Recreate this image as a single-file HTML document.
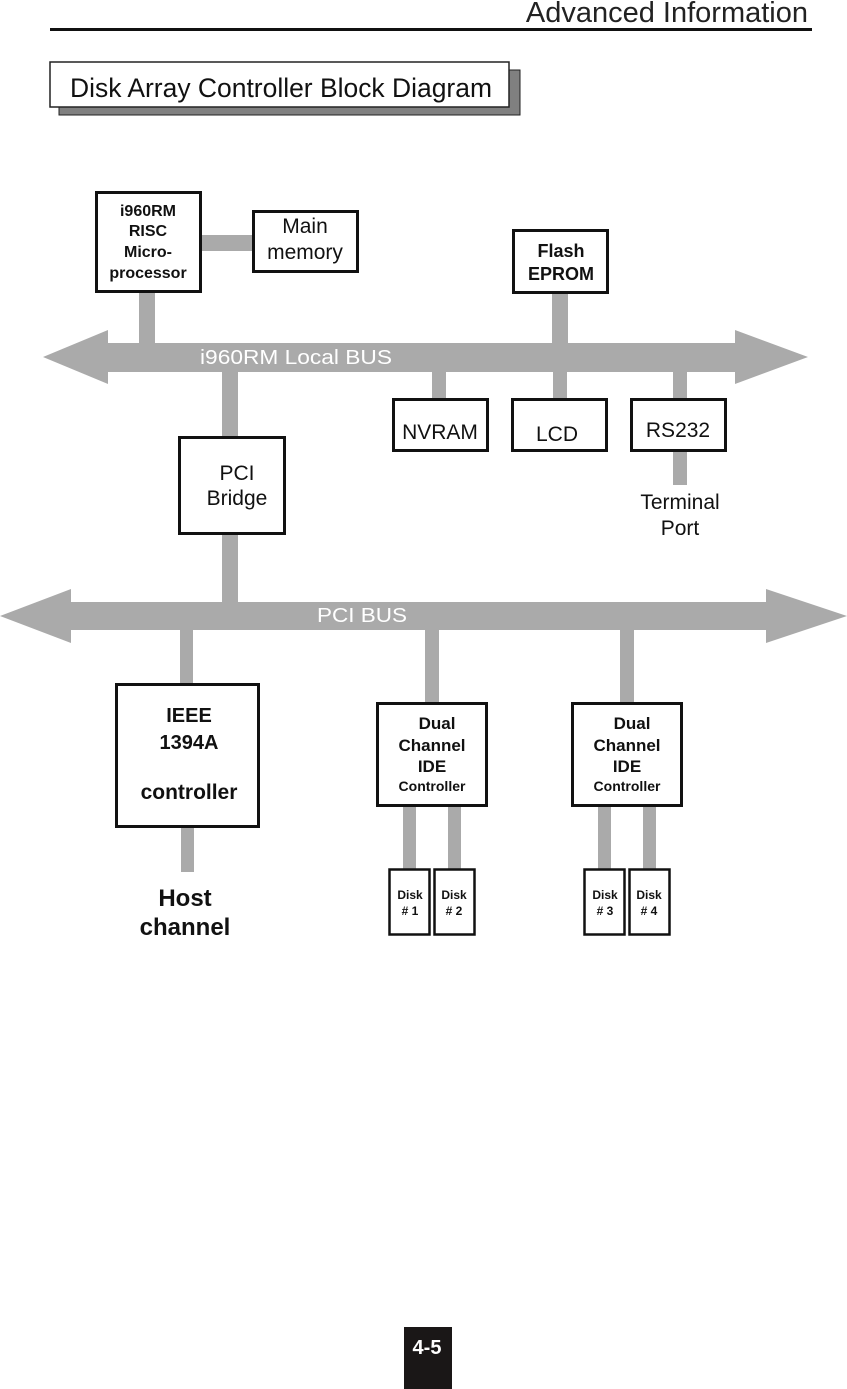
<!DOCTYPE html>
<html><head><meta charset="utf-8"><style>
html,body{margin:0;padding:0;background:#fff;}
svg{display:block;}
text{font-family:"Liberation Sans",Arial,sans-serif;}
</style></head><body>
<svg width="847" height="1389" viewBox="0 0 847 1389" xmlns="http://www.w3.org/2000/svg">
<!-- header -->
<text x="808" y="22" text-anchor="end" font-size="29" fill="#222">Advanced Information</text>
<rect x="50" y="28" width="762" height="3" fill="#111"/>
<rect x="59" y="70" width="461" height="45" fill="#808080" stroke="#222" stroke-width="1"/>
<rect x="50" y="62" width="459" height="45" fill="#fff" stroke="#222" stroke-width="1.5"/>
<text x="70" y="97" font-size="27" fill="#111" textLength="422" lengthAdjust="spacingAndGlyphs">Disk Array Controller Block Diagram</text>

<g fill="#aaaaaa">
<polygon points="43,357 108,330 108,343 735,343 735,330 808,357 735,384 735,372 108,372 108,384"/>
<polygon points="0,616 71,589 71,602 766,602 766,589 847,616 766,643 766,630 71,630 71,643"/>
<rect x="139" y="293" width="16" height="52"/>
<rect x="202" y="235" width="52" height="16"/>
<rect x="552" y="293" width="16" height="52"/>
<rect x="222" y="370" width="16" height="68"/>
<rect x="222" y="532" width="16" height="72"/>
<rect x="432" y="370" width="14" height="30"/>
<rect x="553" y="370" width="14" height="30"/>
<rect x="673" y="370" width="14" height="30"/>
<rect x="673" y="450" width="14" height="35"/>
<rect x="180" y="628" width="13" height="57"/>
<rect x="425" y="628" width="14" height="76"/>
<rect x="620" y="628" width="14" height="76"/>
<rect x="181" y="825" width="13" height="47"/>
<rect x="403" y="804" width="13" height="66"/>
<rect x="448" y="804" width="13" height="66"/>
<rect x="598" y="804" width="13" height="66"/>
<rect x="643" y="804" width="13" height="66"/>
</g>
<text x="200" y="364" font-size="20" fill="#fff" textLength="192" lengthAdjust="spacingAndGlyphs">i960RM Local BUS</text>
<text x="317" y="622" font-size="20" fill="#fff" textLength="90" lengthAdjust="spacingAndGlyphs">PCI BUS</text>

<g fill="#fff" stroke="#111" stroke-width="3">
<rect x="96.5" y="192.5" width="104" height="99"/>
<rect x="253.5" y="211.5" width="104" height="60"/>
<rect x="513.5" y="230.5" width="94" height="62"/>
<rect x="393.5" y="399.5" width="94" height="51"/>
<rect x="512.5" y="399.5" width="94" height="51"/>
<rect x="631.5" y="399.5" width="94" height="51"/>
<rect x="179.5" y="437.5" width="105" height="96"/>
<rect x="116.5" y="684.5" width="142" height="142"/>
<rect x="377.5" y="703.5" width="109" height="102"/>
<rect x="572.5" y="703.5" width="109" height="102"/>
<rect x="389.5" y="869.5" width="40" height="65" stroke-width="2.5"/>
<rect x="434.5" y="869.5" width="40" height="65" stroke-width="2.5"/>
<rect x="584.5" y="869.5" width="40" height="65" stroke-width="2.5"/>
<rect x="629.5" y="869.5" width="40" height="65" stroke-width="2.5"/>
</g>

<g fill="#111" text-anchor="middle">
<g font-weight="bold" font-size="16">
<text x="148" y="216">i960RM</text>
<text x="148" y="236">RISC</text>
<text x="148" y="257">Micro-</text>
<text x="148" y="278">processor</text>
</g>
<text x="305" y="233" font-size="21">Main</text>
<text x="305" y="259" font-size="21">memory</text>
<text x="561" y="257" font-size="18" font-weight="bold">Flash</text>
<text x="561" y="280" font-size="18" font-weight="bold">EPROM</text>
<text x="440" y="439" font-size="21">NVRAM</text>
<text x="557" y="441" font-size="21">LCD</text>
<text x="678" y="437" font-size="21">RS232</text>
<text x="680" y="509" font-size="21">Terminal</text>
<text x="680" y="535" font-size="21">Port</text>
<text x="237" y="480" font-size="21">PCI</text>
<text x="237" y="505" font-size="21">Bridge</text>
<g font-weight="bold">
<text x="189" y="722" font-size="20">IEEE</text>
<text x="189" y="749" font-size="20">1394A</text>
<text x="189" y="799" font-size="21">controller</text>
<text x="185" y="906" font-size="24">Host</text>
<text x="185" y="935" font-size="24">channel</text>
<text x="437" y="729" font-size="17">Dual</text>
<text x="432" y="751" font-size="17">Channel</text>
<text x="432" y="772" font-size="17">IDE</text>
<text x="432" y="791" font-size="14">Controller</text>
<text x="632" y="729" font-size="17">Dual</text>
<text x="627" y="751" font-size="17">Channel</text>
<text x="627" y="772" font-size="17">IDE</text>
<text x="627" y="791" font-size="14">Controller</text>
<g font-size="12">
<text x="410" y="899">Disk</text><text x="410" y="915"># 1</text>
<text x="454" y="899">Disk</text><text x="454" y="915"># 2</text>
<text x="605" y="899">Disk</text><text x="605" y="915"># 3</text>
<text x="649" y="899">Disk</text><text x="649" y="915"># 4</text>
</g>
</g>
</g>

<rect x="404" y="1327" width="48" height="62" fill="#1a1717"/>
<text x="427" y="1354" text-anchor="middle" font-size="20" font-weight="bold" fill="#fff">4-5</text>
</svg>
</body></html>
